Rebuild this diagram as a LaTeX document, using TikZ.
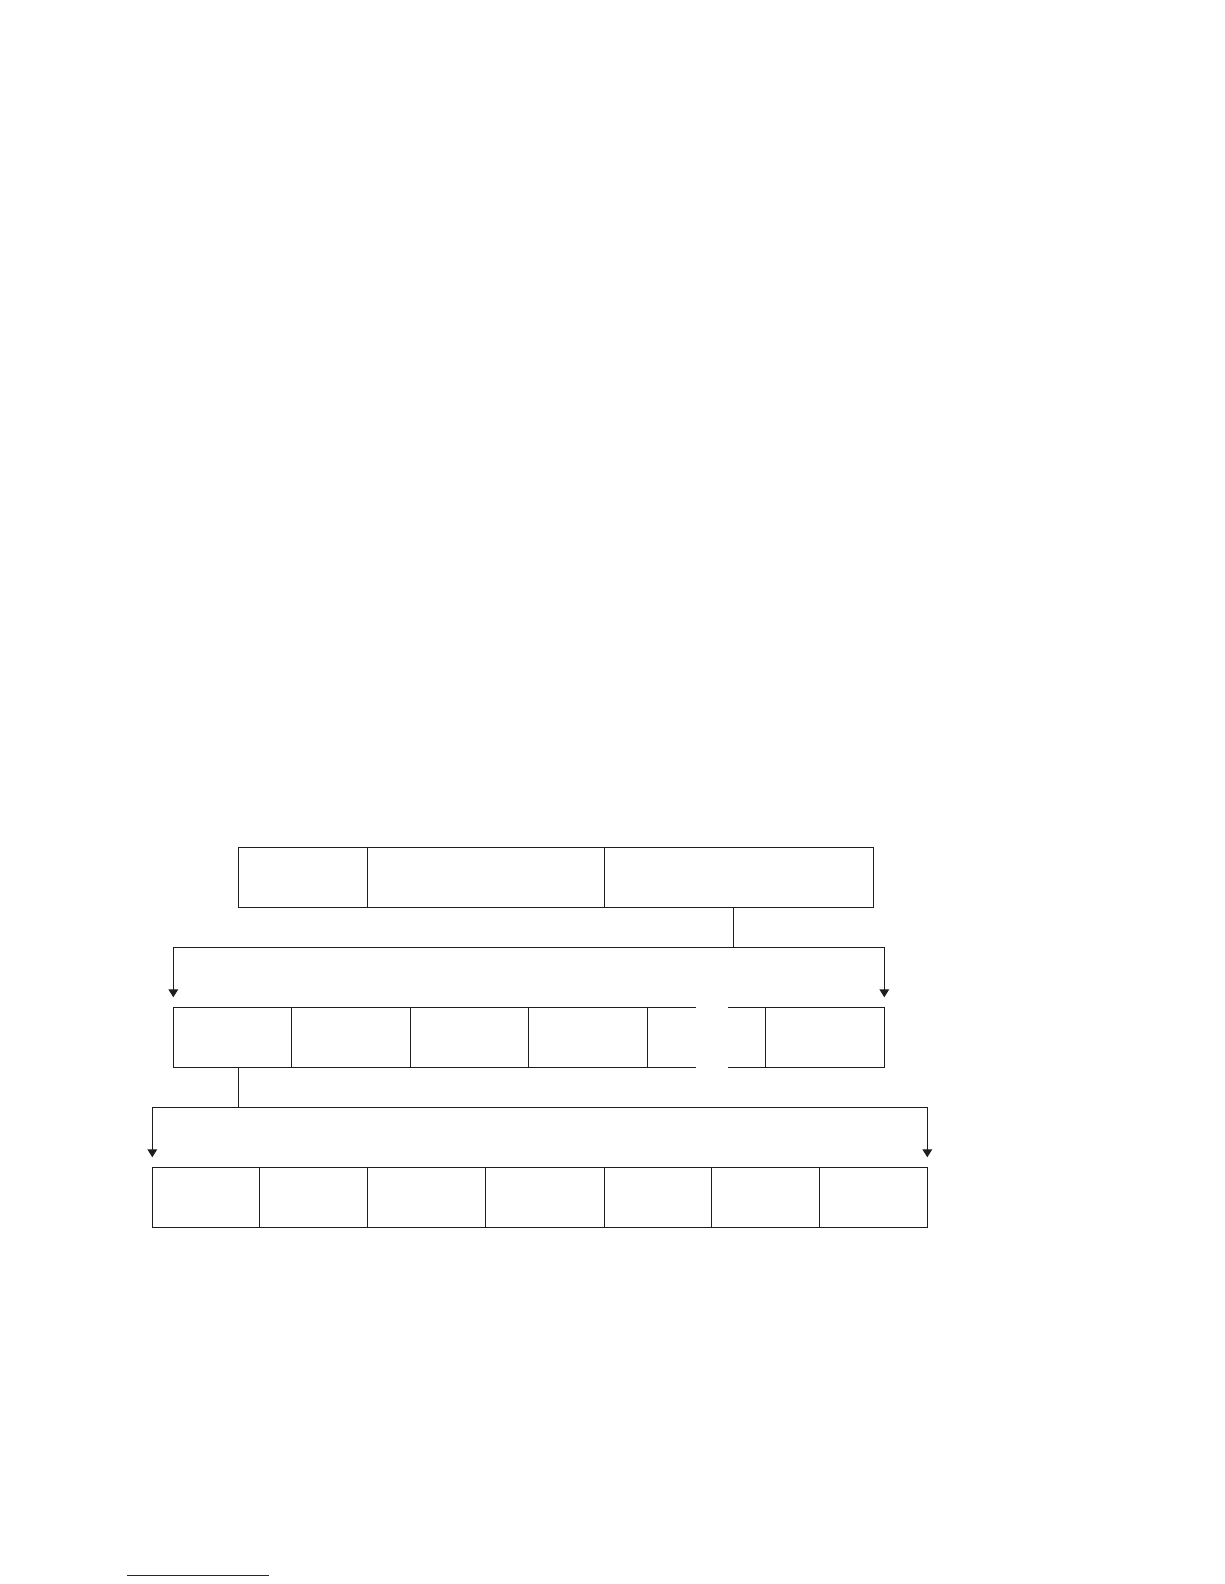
\documentclass[tikz,border=0pt]{standalone}
\usetikzlibrary{arrows.meta}
\definecolor{ink}{RGB}{30,30,30}
\definecolor{navyline}{RGB}{25,25,155}
\begin{document}
\begin{tikzpicture}[x=1pt,y=-1pt,
  cell/.style={draw=ink, line width=1.5pt, rectangle, inner sep=0pt, outer sep=0pt, anchor=north west, minimum height=60pt},
  edge/.style={draw=ink, line width=1.5pt},
  link/.style={draw=ink, line width=1.3pt},
  arr/.style={link, -{Triangle[width=9.6pt,length=8pt]}}]
\useasboundingbox (0,0) rectangle (1224,1584);
% top row
\node[cell, minimum width=129.2pt] (t1) at (238.3,847.3) {};
\node[cell, minimum width=236.8pt] (t2) at (367.5,847.3) {};
\node[cell, minimum width=269pt]   (t3) at (604.3,847.3) {};
% middle row
\node[cell, minimum width=118.4pt] (m1) at (173.3,1007.3) {};
\node[cell, minimum width=118.6pt] (m2) at (291.7,1007.3) {};
\node[cell, minimum width=118.4pt] (m3) at (410.3,1007.3) {};
\node[cell, minimum width=118.6pt] (m4) at (528.7,1007.3) {};
\node[cell, draw=none, minimum width=118pt] (m5) at (647.3,1007.3) {};
\node[cell, minimum width=119pt]   (m6) at (765.3,1007.3) {};
\draw[edge] (m5.north west) -- ++(48.4,0);
\draw[edge] (m5.south west) -- ++(48.4,0);
\draw[edge] (m5.north east) -- ++(-37.3,0);
\draw[edge] (m5.south east) -- ++(-37.3,0);
% bottom row
\node[cell, minimum width=107pt]   (b1) at (152.3,1167.3) {};
\node[cell, minimum width=108.2pt] (b2) at (259.3,1167.3) {};
\node[cell, minimum width=117.8pt] (b3) at (367.5,1167.3) {};
\node[cell, minimum width=119pt]   (b4) at (485.3,1167.3) {};
\node[cell, minimum width=107pt]   (b5) at (604.3,1167.3) {};
\node[cell, minimum width=108.4pt] (b6) at (711.3,1167.3) {};
\node[cell, minimum width=107.6pt] (b7) at (819.7,1167.3) {};
% connectors top -> middle
\coordinate (j1) at (733.3,947.3);
\draw[link] (j1 |- t3.south) -- (j1);
\draw[arr] (j1) -| ([yshift=10pt]m1.north west);
\draw[arr] (j1) -| ([yshift=10pt]m6.north east);
% connectors middle -> bottom
\coordinate (j2) at (238.3,1107.3);
\draw[link] (j2 |- m1.south) -- (j2);
\draw[arr] (j2) -| ([yshift=10pt]b1.north west);
\draw[arr] (j2) -| ([yshift=10pt]b7.north east);
% footnote rule
\coordinate (f1) at (127,1575.3);
\coordinate (f2) at (269,1575.3);
\draw[draw=navyline, line width=1.3pt] (f1) -- (f2);
\end{tikzpicture}
\end{document}
